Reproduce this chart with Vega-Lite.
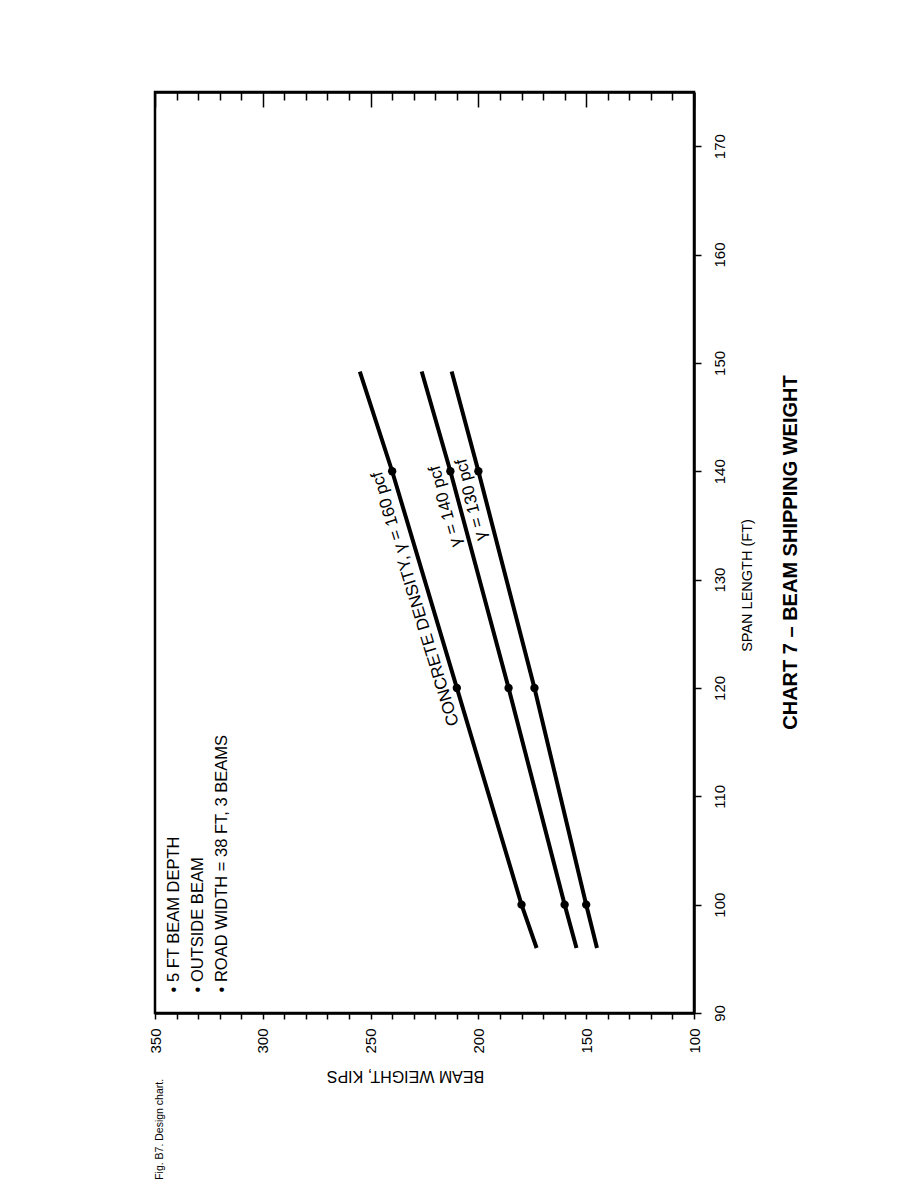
{
  "$schema": "https://vega.github.io/schema/vega-lite/v6.json",
  "width": 539,
  "height": 921,
  "autosize": {"type": "none"},
  "padding": {"left": 155, "top": 92, "right": 224, "bottom": 175},
  "background": "white",
  "config": {
    "font": "Liberation Sans",
    "view": {"stroke": "black", "strokeWidth": 2.5},
    "axis": {"grid": false, "domainColor": "black", "tickColor": "black", "labelColor": "black", "titleColor": "black", "domainWidth": 2.5, "tickWidth": 1.5, "labelFont": "Liberation Sans", "titleFont": "Liberation Sans"}
  },
  "title": {"text": "CHART 7 – BEAM SHIPPING WEIGHT", "orient": "right", "angle": 270, "baseline": "top", "anchor": "middle", "fontSize": 20, "fontWeight": "bold", "font": "Liberation Sans", "color": "black", "offset": 7},
  "datasets": {
    "lines": [
      {"density": "160", "span": 96, "weight": 173},
      {"density": "160", "span": 100, "weight": 180},
      {"density": "160", "span": 120, "weight": 210},
      {"density": "160", "span": 140, "weight": 240},
      {"density": "160", "span": 149.2, "weight": 255},
      {"density": "140", "span": 96, "weight": 154.5},
      {"density": "140", "span": 100, "weight": 160},
      {"density": "140", "span": 120, "weight": 186},
      {"density": "140", "span": 140, "weight": 213},
      {"density": "140", "span": 149.2, "weight": 226.3},
      {"density": "130", "span": 96, "weight": 145},
      {"density": "130", "span": 100, "weight": 150},
      {"density": "130", "span": 120, "weight": 174},
      {"density": "130", "span": 140, "weight": 200},
      {"density": "130", "span": 149.2, "weight": 212.4}
    ],
    "dots": [
      {"density": "160", "span": 100, "weight": 180},
      {"density": "160", "span": 120, "weight": 210},
      {"density": "160", "span": 140, "weight": 240},
      {"density": "140", "span": 100, "weight": 160},
      {"density": "140", "span": 120, "weight": 186},
      {"density": "140", "span": 140, "weight": 213},
      {"density": "130", "span": 100, "weight": 150},
      {"density": "130", "span": 120, "weight": 174},
      {"density": "130", "span": 140, "weight": 200}
    ],
    "labels": [
      {"id": "160", "text": "CONCRETE DENSITY, γ = 160 pcf", "span": 128.6, "weight": 222.9},
      {"id": "140", "text": "γ = 140 pcf", "span": 137.1, "weight": 209},
      {"id": "130", "text": "γ = 130 pcf", "span": 137.7, "weight": 197}
    ],
    "notes": [
      {"text": "•  5 FT BEAM DEPTH", "span": 91.9, "weight": 341.2},
      {"text": "•  OUTSIDE BEAM", "span": 91.9, "weight": 330.1},
      {"text": "•  ROAD WIDTH = 38 FT, 3 BEAMS", "span": 91.9, "weight": 318.9}
    ],
    "caption": [
      {"text": "Fig. B7. Design chart.", "span": 74.6, "weight": 347.5}
    ]
  },
  "resolve": {"axis": {"x": "independent", "y": "independent"}},
  "layer": [
    {
      "data": {"name": "lines"},
      "mark": {"type": "line", "color": "black", "strokeWidth": 4},
      "encoding": {
        "x": {"field": "weight", "type": "quantitative",
          "scale": {"domain": [100, 350], "reverse": true, "nice": false, "zero": false},
          "axis": {"orient": "bottom", "values": [100,110,120,130,140,150,160,170,180,190,200,210,220,230,240,250,260,270,280,290,300,310,320,330,340,350],
            "labelExpr": "datum.value % 50 === 0 ? datum.label : ''",
            "labelAngle": 270, "labelFontSize": 15, "labelPadding": 9, "labelFlush": false, "labelOverlap": false, "labelBound": false,
            "tickSize": 6, "title": "BEAM WEIGHT, KIPS", "titleAngle": 180, "titleBaseline": "bottom", "titleFontSize": 16, "titleFontWeight": "normal", "titlePadding": 14, "titleX": 250}},
        "y": {"field": "span", "type": "quantitative",
          "scale": {"domain": [90, 175], "nice": false, "zero": false},
          "axis": {"orient": "right", "values": [90,100,110,120,130,140,150,160,170],
            "labelAngle": 270, "labelFontSize": 15, "labelPadding": 11, "labelFlush": false, "labelOverlap": false, "labelBound": false,
            "tickSize": 7, "title": "SPAN LENGTH (FT)", "titleAngle": 270, "titleBaseline": "top", "titleFontSize": 14.5, "titleFontWeight": "normal", "titlePadding": 13, "titleY": 493}},
        "detail": {"field": "density"},
        "order": {"field": "span", "type": "quantitative"}
      }
    },
    {
      "data": {"name": "dots"},
      "mark": {"type": "circle", "color": "black", "size": 70, "opacity": 1},
      "encoding": {
        "x": {"field": "weight", "type": "quantitative",
          "axis": {"orient": "top", "values": [100,110,120,130,140,150,160,170,180,190,200,210,220,230,240,250,260,270,280,290,300,310,320,330,340,350],
            "labels": false, "title": null,
            "tickSize": {"condition": {"test": "datum.value % 50 === 0", "value": -15}, "value": -8}}},
        "y": {"field": "span", "type": "quantitative", "axis": null}
      }
    },
    {
      "data": {"name": "labels"},
      "transform": [{"filter": "datum.id === '160'"}],
      "mark": {"type": "text", "angle": 253, "align": "center", "baseline": "bottom", "dy": -5, "fontSize": 17, "color": "black"},
      "encoding": {
        "x": {"field": "weight", "type": "quantitative", "axis": null},
        "y": {"field": "span", "type": "quantitative", "axis": null},
        "text": {"field": "text"}
      }
    },
    {
      "data": {"name": "labels"},
      "transform": [{"filter": "datum.id === '140'"}],
      "mark": {"type": "text", "angle": 254.6, "align": "center", "baseline": "bottom", "dy": -5, "fontSize": 17, "color": "black"},
      "encoding": {
        "x": {"field": "weight", "type": "quantitative", "axis": null},
        "y": {"field": "span", "type": "quantitative", "axis": null},
        "text": {"field": "text"}
      }
    },
    {
      "data": {"name": "labels"},
      "transform": [{"filter": "datum.id === '130'"}],
      "mark": {"type": "text", "angle": 255.7, "align": "center", "baseline": "bottom", "dy": -5, "fontSize": 17, "color": "black"},
      "encoding": {
        "x": {"field": "weight", "type": "quantitative", "axis": null},
        "y": {"field": "span", "type": "quantitative", "axis": null},
        "text": {"field": "text"}
      }
    },
    {
      "data": {"name": "notes"},
      "mark": {"type": "text", "angle": 270, "align": "left", "baseline": "middle", "fontSize": 16.5, "color": "black"},
      "encoding": {
        "x": {"field": "weight", "type": "quantitative", "axis": null},
        "y": {"field": "span", "type": "quantitative", "axis": null},
        "text": {"field": "text"}
      }
    },
    {
      "data": {"name": "caption"},
      "mark": {"type": "text", "angle": 270, "align": "left", "baseline": "middle", "fontSize": 10.5, "color": "black"},
      "encoding": {
        "x": {"field": "weight", "type": "quantitative", "axis": null},
        "y": {"field": "span", "type": "quantitative", "axis": null},
        "text": {"field": "text"}
      }
    }
  ]
}
